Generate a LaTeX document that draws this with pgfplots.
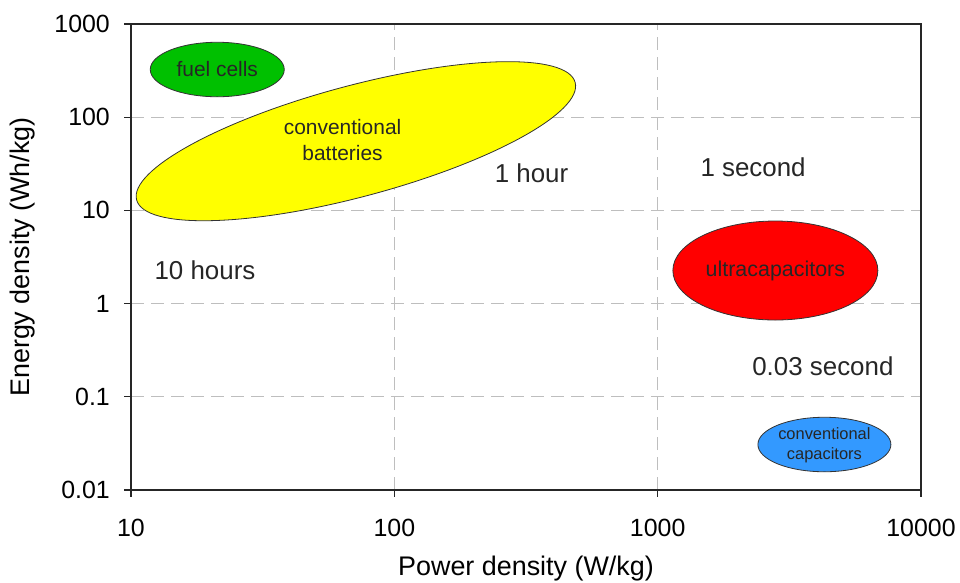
\documentclass[border=0pt]{standalone}
\usepackage{pgfplots}
\pgfplotsset{compat=1.18}
\usepackage{fontspec}
\setmainfont{Liberation Sans}
\usetikzlibrary{shapes.geometric}
\definecolor{fcgreen}{RGB}{0,192,0}
\definecolor{capblue}{RGB}{51,153,255}
\definecolor{byellow}{RGB}{255,255,0}
\definecolor{gridgray}{RGB}{190,190,190}
\pgfplotsset{
  ell/.style 2 args={only marks, mark=none, nodes near coords={\phantom{.}},
    every node near coord/.style={anchor=center, ellipse, inner sep=0pt,
      draw=black!80, line width=0.8bp, fill=#1, #2}},
  lbl/.style 2 args={only marks, mark=none, nodes near coords={#1},
    every node near coord/.style={anchor=center, align=center, inner sep=0pt,
      text=black!85, font=#2}},
}
\begin{document}
\begin{tikzpicture}
\begin{axis}[name=ax,
  xmode=log, ymode=log,
  scale only axis, width=790bp, height=466bp,
  xmin=10, xmax=10000, ymin=0.01, ymax=1000,
  xtick={10,100,1000,10000}, xticklabels={10,100,1000,10000},
  ytick={0.01,0.1,1,10,100,1000}, yticklabels={0.01,0.1,1,10,100,1000},
  xminorticks=false, yminorticks=false,
  tick pos=left, tick align=outside, major tick length=7bp,
  axis line style={black!85, line width=1.2bp},
  tick style={black!85, line width=1.2bp},
  grid=major,
  major grid style={gridgray, line width=0.9bp, dash pattern=on 13bp off 7bp},
  ticklabel style={font=\fontsize{25}{30}\selectfont, inner sep=0pt},
  yticklabel style={xshift=-14bp},
  xticklabel style={yshift=-22bp},
  xlabel={Power density (W/kg)},
  ylabel={Energy density (Wh/kg)},
  label style={font=\fontsize{27}{32}\selectfont},
  xlabel style={at={(axis description cs:0.5,-0.1845)}, anchor=base},
  ylabel style={at={(axis description cs:-0.1291,0.5)}, anchor=base},
  clip=false,
]
% ellipses (regions): centre coordinates
\addplot[ell={fcgreen}{minimum width=134bp, minimum height=54.5bp}] coordinates {(21.26,324.9)};
\addplot[ell={byellow}{minimum width=454bp, minimum height=111bp, rotate=15}] coordinates {(71.46,55.27)};
\addplot[ell={red}{minimum width=205bp, minimum height=99bp}] coordinates {(2799,2.265)};
\addplot[ell={capblue}{minimum width=133bp, minimum height=54.5bp}] coordinates {(4297,0.03077)};
% region labels
\addplot[lbl={fuel cells}{\fontsize{21}{25}\selectfont}] coordinates {(21.26,330)};
\addplot[lbl={{conventional\\batteries}}{\fontsize{21}{26}\selectfont}] coordinates {(63.6,56.9)};
\addplot[lbl={ultracapacitors}{\fontsize{21.5}{25}\selectfont}] coordinates {(2799,2.265)};
\addplot[lbl={{conventional\\capacitors}}{\fontsize{16.5}{20}\selectfont}] coordinates {(4297,0.0305)};
% time labels
\addplot[lbl={10 hours}{\fontsize{26}{31}\selectfont}] coordinates {(19.1,2.294)};
\addplot[lbl={1 hour}{\fontsize{26}{31}\selectfont}] coordinates {(331.9,25.2)};
\addplot[lbl={1 second}{\fontsize{26}{31}\selectfont}] coordinates {(2303,28.9)};
\addplot[lbl={0.03 second}{\fontsize{26}{31}\selectfont}] coordinates {(4241,0.2125)};
\end{axis}
\pgfresetboundingbox
\path (ax.south west) ++(-131bp,-93bp) rectangle ++(960bp,583bp);
\end{tikzpicture}
\end{document}
